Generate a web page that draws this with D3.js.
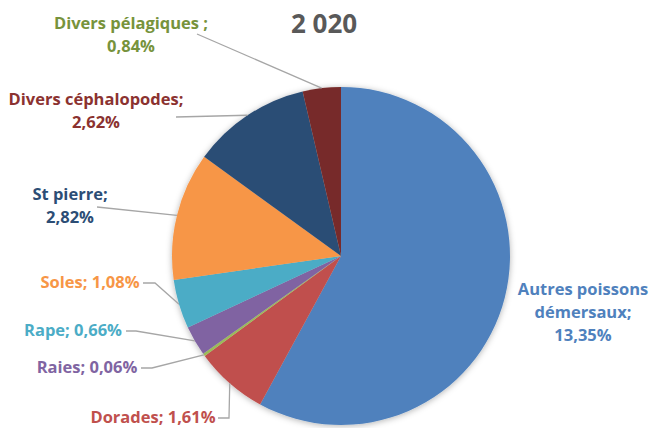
<!DOCTYPE html>
<html>
<head>
<meta charset="utf-8">
<script src="https://cdn.jsdelivr.net/npm/d3@7"></script>
<style>
  body { margin: 0; background: #fff; }
  text { font-family: "Open Sans", Lato, sans-serif; font-weight: bold; }
</style>
</head>
<body>
<svg id="chart" width="650" height="428"></svg>
<script>
const title = '2 020';
const categories = ['Autres poissons démersaux', 'Dorades', 'Raies', 'Rape', 'Soles', 'St pierre', 'Divers céphalopodes', 'Divers pélagiques'];
const values = [13.35, 1.61, 0.06, 0.66, 1.08, 2.82, 2.62, 0.84];
const valueLabels = ['13,35%', '1,61%', '0,06%', '0,66%', '1,08%', '2,82%', '2,62%', '0,84%'];

const width = 650, height = 428;
const cx = 341, cy = 256, r = 169;

const sliceColors = ['#4F81BD', '#C0504D', '#9BBB59', '#8064A2', '#4BACC6', '#F79646', '#2C4D75', '#772C2A'];
const labelColors = ['#4F81BD', '#C0504D', '#8064A2', '#4BACC6', '#F79646', '#2C4D75', '#8B3230', '#77933C'];

// label layout: anchor (centre x, first baseline), line breaks, leader elbow
const layout = [
  { x: 583, y: 295, lines: (c, v) => ['Autres poissons', 'démersaux;', v], leader: null },
  { x: 153, y: 423, lines: (c, v) => [c + '; ' + v], leader: [[218, 418], [229, 418]] },
  { x: 87, y: 373, lines: (c, v) => [c + '; ' + v], leader: [[141, 368], [152, 368]] },
  { x: 73, y: 336, lines: (c, v) => [c + '; ' + v], leader: [[126, 331], [136, 331]] },
  { x: 90, y: 288, lines: (c, v) => [c + '; ' + v], leader: [[143, 283], [155, 283]] },
  { x: 70, y: 200, lines: (c, v) => [c + ';', v], leader: [[97, 207]] },
  { x: 96, y: 105, lines: (c, v) => [c + ';', v], leader: [[176, 117]] },
  { x: 131, y: 29, lines: (c, v) => [c + ' ;', v], leader: [[197, 34]] }
];

const svg = d3.select('#chart');

const defs = svg.append('defs');
const filter = defs.append('filter').attr('id', 'shadow')
  .attr('x', '-20%').attr('y', '-20%').attr('width', '140%').attr('height', '140%');
filter.append('feDropShadow')
  .attr('dx', 0).attr('dy', 1).attr('stdDeviation', 3)
  .attr('flood-color', '#000').attr('flood-opacity', 0.3);

const pie = d3.pie().sort(null).value((d) => d)(values);
const arc = d3.arc().innerRadius(0).outerRadius(r);

const g = svg.append('g').attr('transform', `translate(${cx},${cy})`);

g.append('g').attr('filter', 'url(#shadow)')
  .selectAll('path')
  .data(pie)
  .enter().append('path')
  .attr('d', arc)
  .attr('fill', (d, i) => sliceColors[i]);

// leader lines
const line = d3.line();
pie.forEach((d, i) => {
  const lay = layout[i];
  if (!lay.leader) return;
  const mid = (d.startAngle + d.endAngle) / 2;
  const edge = [cx + r * Math.sin(mid), cy - r * Math.cos(mid)];
  const pts = lay.leader.concat([edge]);
  svg.append('path')
    .attr('d', line(pts))
    .attr('fill', 'none')
    .attr('stroke', '#A6A6A6')
    .attr('stroke-width', 1.3);
});

// labels
pie.forEach((d, i) => {
  const lay = layout[i];
  const lines = lay.lines(categories[i], valueLabels[i]);
  const t = svg.append('text')
    .attr('x', lay.x)
    .attr('y', lay.y)
    .attr('text-anchor', 'middle')
    .attr('font-size', 16.5)
    .attr('fill', labelColors[i]);
  lines.forEach((s, k) => {
    t.append('tspan').attr('x', lay.x).attr('dy', k === 0 ? 0 : 23).text(s);
  });
});

svg.append('text')
  .attr('x', 324)
  .attr('y', 33)
  .attr('text-anchor', 'middle')
  .attr('font-size', 26)
  .attr('fill', '#595959')
  .text(title);
</script>
</body>
</html>
